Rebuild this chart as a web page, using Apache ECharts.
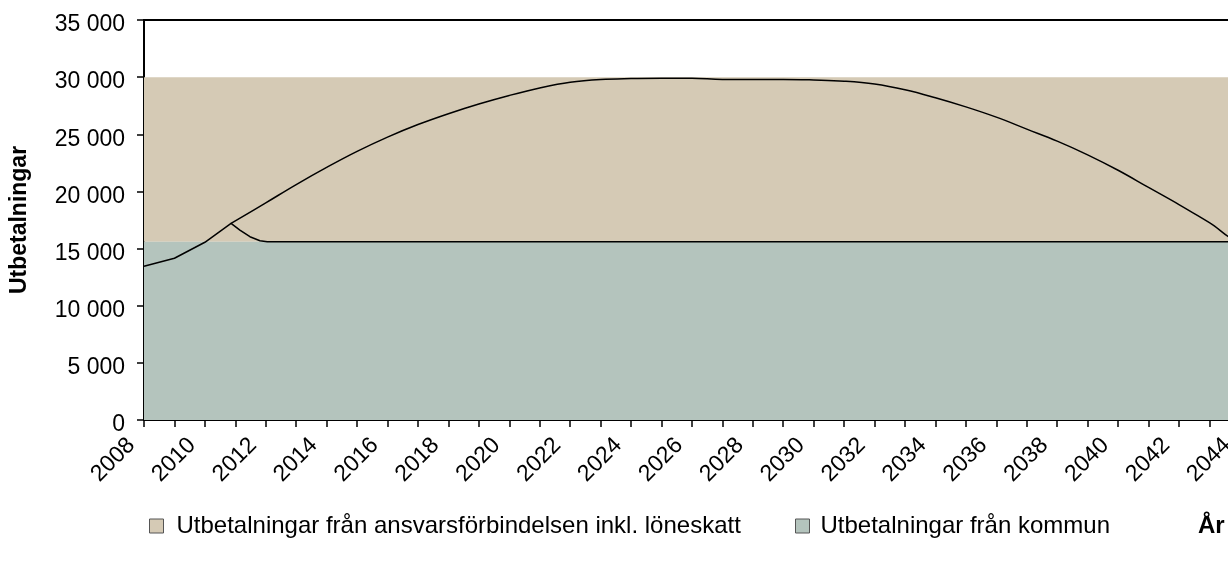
<!DOCTYPE html>
<html>
<head>
<meta charset="utf-8">
<script src="https://cdn.jsdelivr.net/npm/echarts@6/dist/echarts.min.js"></script>
<style>
html,body{margin:0;padding:0;background:#fff;}
#chart{width:1228px;height:568px;}
</style>
</head>
<body>
<div id="chart"></div>
<script>
// ---- data ----
const kommunYears  = [2008, 2009, 2010, 2010.86, 2011.15, 2011.48, 2011.81, 2012.05, 2045];
const kommunValues = [13450, 14150, 15550, 17200, 16620, 16040, 15690, 15600, 15600];
const totalYears  = [2010.86,2012,2013,2014,2015,2016,2017,2018,2019,2020,2021,2022,2023,2024,2025,2026,2027,2028,2029,2030,2031,2032,2033,2034,2035,2036,2037,2038,2039,2040,2041,2042,2043,2044,2045];
const totalValues = [17200,19000,20600,22100,23500,24750,25850,26800,27650,28400,29050,29550,29800,29880,29900,29900,29800,29800,29800,29750,29650,29400,28900,28200,27400,26500,25450,24400,23200,21850,20350,18850,17270,15700,15600];
const bandKommun = [0, 15600];
const bandAnsvar = [15600, 30000];
const xRange = [2008, 2045];
const yTickValues = [0, 5000, 10000, 15000, 20000, 25000, 30000, 35000];
const seriesNames = ['Utbetalningar från ansvarsförbindelsen inkl. löneskatt', 'Utbetalningar från kommun'];
const yAxisTitle = 'Utbetalningar';
const xAxisTitle = 'År';

const BEIGE = '#d5cab5';
const GREEN = '#b4c4bd';
const FONT = '"Liberation Sans", Arial, sans-serif';

const chart = echarts.init(document.getElementById('chart'), null, {renderer: 'canvas'});

const option = {
  animation: false,
  backgroundColor: '#ffffff',
  grid: {
    left: 144, top: 20, height: 400, width: 30.44 * (xRange[1] - xRange[0]),
    outerBoundsMode: 'none', containLabel: false,
    show: true, borderColor: '#000', borderWidth: 2, backgroundColor: 'transparent'
  },
  xAxis: {
    type: 'value', min: xRange[0], max: xRange[1], interval: 1,
    axisLine: {show: true, onZero: false, lineStyle: {color: '#000', width: 2}},
    axisTick: {show: true, length: 7, lineStyle: {color: '#000', width: 1.5}},
    splitLine: {show: false},
    axisLabel: {
      rotate: 45, margin: 9, fontSize: 23, fontFamily: FONT, color: '#000',
      padding: [0, 18, 0, 0],
      showMaxLabel: false, hideOverlap: false,
      formatter: v => (v % 2 === 0 ? String(v) : '')
    }
  },
  yAxis: {
    type: 'value', min: yTickValues[0], max: yTickValues[yTickValues.length-1], interval: yTickValues[1] - yTickValues[0],
    name: yAxisTitle, nameLocation: 'middle', nameGap: 113,
    nameTextStyle: {fontSize: 23, fontWeight: 'bold', fontFamily: FONT, color: '#000'},
    axisLine: {show: true, lineStyle: {color: '#000', width: 2}},
    axisTick: {show: true, length: 7, lineStyle: {color: '#000', width: 1.5}},
    splitLine: {show: false},
    axisLabel: {
      margin: 19, color: '#000',
      formatter: v => '{t|' + String(v).replace(/\B(?=(\d{3})+(?!\d))/g, ' ') + '}',
      rich: {t: {fontSize: 23, fontFamily: FONT, color: '#000', padding: [10, 0, 0, 0]}}
    }
  },
  legend: [
    {
      data: [{name: seriesNames[0], itemStyle: {color: BEIGE}}],
      left: 149, top: 514, padding: 0, icon: 'rect', itemWidth: 14, itemHeight: 14,
      itemStyle: {borderColor: '#555', borderWidth: 1},
      textStyle: {fontSize: 24, fontFamily: FONT, color: '#000', padding: [0,0,0,8]},
      selectedMode: false
    },
    {
      data: [{name: seriesNames[1], itemStyle: {color: GREEN}}],
      left: 795, top: 514, padding: 0, icon: 'rect', itemWidth: 14, itemHeight: 14,
      itemStyle: {borderColor: '#555', borderWidth: 1},
      textStyle: {fontSize: 24, fontFamily: FONT, color: '#000', padding: [0,0,0,6]},
      selectedMode: false
    }
  ],
  graphic: [
    {type: 'text', left: 1198, top: 514, style: {text: xAxisTitle, fontSize: 24, fontWeight: 'bold', fontFamily: FONT, fill: '#000'}}
  ],
  series: [
    {
      name: seriesNames[0], type: 'line',
      data: totalYears.map((y, i) => [y, totalValues[i]]),
      showSymbol: false, smooth: 0.4,
      itemStyle: {color: BEIGE},
      lineStyle: {color: '#000', width: 1.5},
      z: 5,
      markArea: {
        silent: true, itemStyle: {color: BEIGE},
        data: [[{yAxis: bandAnsvar[0]}, {yAxis: bandAnsvar[1]}]]
      }
    },
    {
      name: seriesNames[1], type: 'line',
      data: kommunYears.map((y, i) => [y, kommunValues[i]]),
      showSymbol: false, smooth: false,
      itemStyle: {color: GREEN},
      lineStyle: {color: '#000', width: 1.5, join: 'round'},
      z: 5,
      markArea: {
        silent: true, itemStyle: {color: GREEN},
        data: [[{yAxis: bandKommun[0]}, {yAxis: bandKommun[1]}]]
      }
    }
  ]
};
chart.setOption(option);
</script>
</body>
</html>
